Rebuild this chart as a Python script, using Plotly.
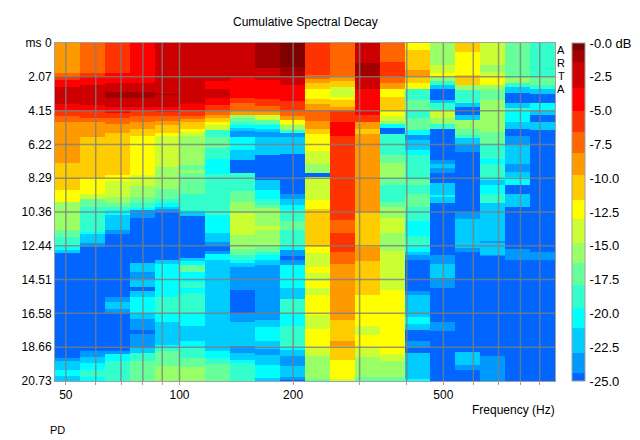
import numpy as np
import plotly.graph_objects as go

TITLE = "Cumulative Spectral Decay"
freq_edges_hz = [46.8, 54.5, 63.5, 74.0, 86.1, 100.3, 116.9, 136.1, 158.5, 184.6, 215.0,
                 250.4, 291.7, 339.7, 395.7, 460.8, 536.7, 625.0, 728.0, 848.0, 987.7]
time_ticks_ms = [0, 2.07, 4.15, 6.22, 8.29, 10.36, 12.44, 14.51, 16.58, 18.66, 20.73]
time_labels = ["ms 0", "2.07", "4.15", "6.22", "8.29", "10.36", "12.44", "14.51", "16.58", "18.66", "20.73"]
freq_grid_hz = [50, 60, 70, 80, 90, 100, 200, 300, 400, 500, 600, 700, 800, 900]
freq_labels = ["50", "", "", "", "", "100", "200", "", "", "500", "", "", "", ""]
cbar_ticks = [0, -2.5, -5, -7.5, -10, -12.5, -15, -17.5, -20, -22.5, -25]
cbar_labels = ["-0.0 dB", "-2.5", "-5.0", "-7.5", "-10.0", "-12.5", "-15.0", "-17.5", "-20.0", "-22.5", "-25.0"]
arta_letters = ["A", "R", "T", "A"]

# colour bands: upper dB edges and colours
band_edges = [0, -0.5, -1.4, -3.3, -5.0, -6.6, -8.1, -9.8, -11.6, -13.0, -14.8, -16.3, -17.9, -19.6, -21.1, -22.9, -24.4, -25]
band_colors = ["#7f0000", "#a00000", "#cc0000", "#ff0000", "#ff3300", "#ff6600", "#ff9900", "#ffcc00", "#ffff00",
               "#ccff33", "#99ff66", "#66ff99", "#33ffcc", "#00ffff", "#00ccff", "#0099ff", "#0066ff"]

# representative level (dB) in each band
A, B, C, D, E, F, G, H, I, J, K, L, M, N, O, P, Q = (-0.2, -1.0, -2.5, -4.0, -5.8, -7.3, -9.0, -10.7, -12.3,
                                                    -14.0, -15.5, -17.0, -18.7, -20.3, -22.0, -23.6, -24.7)

# each column: (time the level lasts until in ms, level in dB)
col00 = [(1.86,G),(2.1,F),(2.27,E),(2.68,D),(3.74,C),(4.11,D),(4.52,E),(4.87,F),(7.34,G),(9.02,H),(9.73,I),(11.43,K),(11.88,L),(12.49,M),(12.7,N),(12.9,O),(19.35,Q),(19.55,P),(20.02,O),(20.43,N),(20.73,O)]
col01 = [(1.86,F),(2.07,E),(2.58,D),(3.8,C),(4.17,D),(4.58,E),(4.87,F),(5.81,G),(8.3,H),(9.22,I),(9.53,J),(10.04,L),(11.57,M),(11.72,N),(12.29,O),(12.53,P),(18.9,Q),(19.28,P),(19.61,O),(20.02,N),(20.47,M),(20.73,N)]
col02 = [(1.86,E),(2.47,D),(2.99,C),(3.33,B),(3.91,C),(4.31,D),(4.58,E),(4.93,F),(5.54,G),(8.1,H),(8.51,I),(9.43,J),(9.84,K),(10.04,L),(10.25,M),(10.55,N),(11.51,O),(11.72,P),(15.6,Q),(15.87,P),(16.34,O),(16.58,P),(18.9,Q),(19.08,P),(19.51,N),(20.73,M)]
col03 = [(2.47,D),(2.99,C),(3.33,B),(3.91,C),(4.17,D),(4.52,E),(4.87,F),(5.28,G),(5.69,H),(8.1,I),(8.81,J),(9.43,K),(9.84,L),(10.14,M),(10.25,N),(10.76,P),(13.48,Q),(14.03,O),(14.5,P),(14.99,O),(15.26,Q),(15.6,O),(16.54,N),(16.95,O),(17.57,P),(17.85,Q),(18.67,P),(19.04,O),(19.55,M),(20.73,L)]
col04 = [(3.09,C),(3.19,B),(3.91,C),(4.25,D),(4.52,E),(4.79,F),(5.07,G),(5.54,H),(5.71,I),(7.59,J),(8.92,K),(9.53,L),(9.84,M),(10.04,N),(10.18,O),(10.41,P),(13.27,Q),(13.35,P),(13.52,O),(15.6,N),(16.58,M),(17.1,N),(18.53,O),(18.67,N),(18.88,M),(19.2,L),(19.82,L),(20.73,K)]
col05 = [(3.74,C),(4.11,D),(4.48,E),(4.66,F),(4.87,G),(5.24,H),(5.44,I),(5.69,J),(7.49,K),(7.79,L),(8.0,K),(9.22,L),(10.25,M),(10.41,N),(10.65,O),(13.21,Q),(13.41,O),(13.62,N),(14.03,L),(14.64,N),(15.05,M),(15.36,N),(16.58,M),(17.36,N),(18.26,O),(18.67,N),(19.35,M),(19.9,L),(20.73,K)]
col06 = [(2.37,C),(2.78,D),(3.39,C),(3.8,D),(4.11,E),(4.42,F),(4.62,G),(4.83,H),(5.07,I),(5.34,J),(5.75,M),(6.42,L),(7.14,M),(8.06,N),(10.55,M),(11.64,N),(12.19,O),(12.45,P),(12.74,Q),(12.95,P),(13.31,N),(18.88,O),(19.35,N),(19.69,M),(20.73,L)]
col07 = [(2.17,C),(3.39,D),(3.7,E),(4.11,F),(4.38,G),(4.62,K),(4.83,L),(5.03,M),(5.19,N),(5.4,O),(5.75,P),(6.56,N),(7.18,O),(7.93,Q),(9.08,M),(9.73,L),(10.45,K),(11.78,J),(12.66,K),(13.0,L),(13.27,M),(13.48,N),(13.72,O),(15.15,P),(16.58,Q),(17.1,P),(18.59,O),(19.04,P),(19.41,O),(19.61,N),(20.73,M)]
col08 = [(1.55,B),(2.27,C),(3.44,D),(3.84,E),(4.21,F),(4.42,G),(4.72,J),(4.93,L),(5.03,M),(5.24,N),(5.44,O),(5.75,P),(6.87,O),(8.41,Q),(9.02,O),(9.53,N),(9.94,M),(10.14,L),(11.23,K),(11.51,J),(12.53,K),(12.8,L),(13.0,M),(13.31,N),(13.62,O),(17.0,P),(17.44,O),(18.26,N),(18.8,O),(19.14,P),(19.75,O),(20.53,N),(20.73,O)]
col09 = [(1.51,A),(2.07,B),(2.58,C),(3.54,D),(4.11,E),(4.48,F),(4.72,G),(5.03,I),(5.34,K),(5.54,M),(5.75,P),(6.77,O),(9.22,Q),(9.53,P),(9.94,O),(10.25,N),(10.96,M),(11.51,L),(12.53,M),(12.7,N),(13.11,P),(13.31,Q),(13.62,P),(15.05,N),(15.66,O),(16.58,M),(17.4,N),(18.63,M),(18.84,N),(19.2,O),(19.82,P),(20.47,O),(20.68,P),(20.73,Q)]
col10 = [(1.96,E),(2.21,F),(2.47,G),(2.78,H),(3.44,I),(3.74,H),(4.11,G),(4.79,F),(5.28,G),(5.6,H),(6.63,I),(7.44,J),(8.0,K),(8.2,Q),(9.63,J),(10.18,I),(12.53,H),(12.9,I),(13.72,J),(14.13,I),(14.58,J),(15.05,I),(15.46,J),(16.69,I),(17.55,J),(18.67,I),(19.18,J),(20.58,K),(20.73,L)]
col11 = [(2.07,F),(2.37,G),(2.68,H),(3.29,J),(3.5,I),(3.91,H),(4.21,G),(4.87,E),(5.71,D),(10.82,E),(11.64,F),(12.86,E),(13.52,F),(17.0,G),(18.26,H),(18.59,G),(19.41,H),(20.64,I),(20.73,J)]
col12 = [(1.25,C),(2.06,B),(2.78,C),(4.46,D),(4.87,E),(5.28,G),(5.6,H),(10.41,G),(12.49,H),(13.41,G),(15.46,H),(17.4,I),(17.95,J),(18.73,I),(19.3,J),(20.47,K),(20.73,L)]
col13 = [(1.15,F),(2.07,E),(2.47,F),(2.78,G),(3.29,I),(4.11,H),(4.52,I),(4.79,J),(4.99,K),(5.19,N),(5.6,Q),(6.83,M),(7.34,L),(8.3,K),(8.71,L),(9.73,M),(10.04,L),(10.76,K),(11.64,J),(12.74,K),(15.15,J),(19.08,I),(19.49,J),(20.47,K),(20.73,L)]
col14 = [(0.43,I),(1.66,H),(2.07,G),(2.47,H),(2.78,I),(3.5,M),(4.11,L),(4.62,M),(5.34,L),(5.64,N),(5.95,P),(6.56,O),(6.83,N),(8.41,M),(8.71,L),(9.22,M),(10.04,L),(10.9,M),(11.84,N),(12.49,M),(12.8,N),(13.0,O),(13.27,P),(15.26,Q),(15.46,P),(16.79,O),(17.24,N),(17.57,O),(18.26,Q),(18.67,P),(19.04,Q),(20.58,O),(20.73,N)]
col15 = [(1.35,K),(1.86,J),(2.07,I),(2.37,K),(2.58,M),(2.78,O),(3.5,Q),(3.7,O),(4.11,M),(4.62,J),(4.93,K),(5.28,M),(7.18,Q),(7.38,P),(7.69,O),(8.0,P),(8.61,Q),(9.33,O),(9.43,N),(9.84,O),(13.0,Q),(13.56,P),(14.44,O),(15.05,P),(17.1,Q),(17.65,P),(20.73,Q)]
col16 = [(0.53,H),(1.96,I),(2.58,H),(2.88,K),(3.7,M),(3.91,O),(4.42,Q),(4.72,O),(5.28,K),(5.64,L),(5.85,M),(6.26,O),(6.71,P),(10.41,Q),(10.8,P),(12.6,O),(12.86,P),(18.94,Q),(19.75,O),(20.02,P),(20.73,Q)]
col17 = [(1.35,J),(1.76,K),(2.13,J),(2.54,I),(2.88,K),(3.5,L),(5.44,K),(6.26,L),(7.08,M),(7.38,N),(8.3,M),(8.41,N),(8.71,O),(9.22,N),(9.84,M),(12.13,O),(12.25,P),(13.0,O),(13.11,P),(19.2,Q),(20.73,P)]
col18 = [(2.17,L),(2.47,K),(2.68,M),(3.03,O),(3.7,Q),(4.01,O),(4.21,M),(4.87,N),(5.24,O),(5.69,Q),(6.22,P),(7.38,O),(7.89,P),(8.2,O),(8.71,N),(9.22,Q),(9.53,O),(10.04,O),(12.66,Q),(13.27,P),(20.73,Q)]
col19 = [(2.07,M),(2.58,L),(2.78,M),(3.09,O),(3.7,Q),(4.11,N),(4.21,M),(4.38,O),(4.87,Q),(5.34,O),(12.86,Q),(13.27,P),(20.73,Q)]
columns = [col00, col01, col02, col03, col04, col05, col06, col07, col08, col09,
           col10, col11, col12, col13, col14, col15, col16, col17, col18, col19]

# sample the stepped columns onto a regular time grid
y_edges = np.linspace(0, time_ticks_ms[-1], 416)
y_mid = (y_edges[:-1] + y_edges[1:]) / 2
z = np.zeros((len(y_mid), len(columns)))
for c, runs in enumerate(columns):
    ends = np.array([r[0] for r in runs])
    vals = np.array([r[1] for r in runs])
    idx = np.minimum(np.searchsorted(ends, y_mid), len(vals) - 1)
    z[:, c] = vals[idx]

# discrete colour scale, lowest band first
stops = []
for i in range(len(band_colors) - 1, -1, -1):
    lo, hi = band_edges[i + 1], band_edges[i]
    stops.append([(lo + 25) / 25, band_colors[i]])
    stops.append([(hi + 25) / 25, band_colors[i]])

GRID = "rgba(125,125,125,0.78)"
AXIS = "#a0a0a0"
FONT = "Liberation Sans"

fig = go.Figure(go.Heatmap(
    x=freq_edges_hz, y=y_edges, z=z, zmin=-25, zmax=0, colorscale=stops, zsmooth=False,
    colorbar=dict(xref="container", x=572 / 640, xanchor="left", xpad=0,
                  y=0.5, yanchor="middle", ypad=0, len=1, lenmode="fraction",
                  thickness=13, thicknessmode="pixels", tickvals=cbar_ticks, ticktext=cbar_labels,
                  ticks="outside", ticklen=2, tickcolor="white", outlinecolor=AXIS, outlinewidth=1,
                  tickfont=dict(family=FONT, size=13, color="black")),
))

shapes = []
for f in freq_grid_hz:
    shapes.append(dict(type="line", xref="x", yref="paper", x0=f, x1=f, y0=0, y1=1, layer="above",
                       line=dict(color=GRID, width=1.5)))
for t in time_ticks_ms[1:-1]:
    shapes.append(dict(type="line", xref="paper", yref="y", x0=0, x1=1, y0=t, y1=t, layer="above",
                       line=dict(color=GRID, width=1.5)))

annotations = [
    dict(text=TITLE, xref="paper", yref="paper", x=250 / 500, y=1 + 21 / 338, xanchor="center", yanchor="middle",
         showarrow=False, font=dict(family=FONT, size=12, color="black")),
    dict(text="Frequency (Hz)", xref="paper", yref="paper", x=1 + 2 / 500, y=-29 / 338, xanchor="right", yanchor="middle",
         showarrow=False, font=dict(family=FONT, size=12, color="black")),
    dict(text="PD", xref="paper", yref="paper", x=-7 / 500, y=-49 / 338, xanchor="left", yanchor="middle",
         showarrow=False, font=dict(family=FONT, size=11, color="black")),
]
for n, letter in enumerate(arta_letters):
    annotations.append(dict(text=letter, xref="paper", yref="paper", x=1 + 6 / 500, y=1 - (7 + 13 * n) / 338,
                            xanchor="center", yanchor="middle", showarrow=False, borderpad=0, borderwidth=0,
                            font=dict(family=FONT, size=11, color="black")))

fig.update_layout(
    width=640, height=440, autosize=False, paper_bgcolor="white", plot_bgcolor="white",
    margin=dict(l=55, r=85, t=43, b=59, pad=0), showlegend=False, shapes=shapes, annotations=annotations,
    xaxis=dict(type="log", range=[np.log10(freq_edges_hz[0]), np.log10(freq_edges_hz[-1])],
               tickvals=freq_grid_hz, ticktext=freq_labels, ticks="outside", ticklen=3, tickcolor=AXIS,
               showgrid=False, showline=True, linecolor=AXIS, mirror=True, zeroline=False,
               tickfont=dict(family=FONT, size=12, color="black")),
    yaxis=dict(range=[time_ticks_ms[-1], 0], tickvals=time_ticks_ms, ticktext=time_labels, ticks="",
               showgrid=False, showline=True, linecolor=AXIS, mirror=True, zeroline=False,
               tickfont=dict(family=FONT, size=12, color="black")),
)

fig.write_html("out.html", config=dict(displayModeBar=False), post_script="document.body.style.margin='0';")
